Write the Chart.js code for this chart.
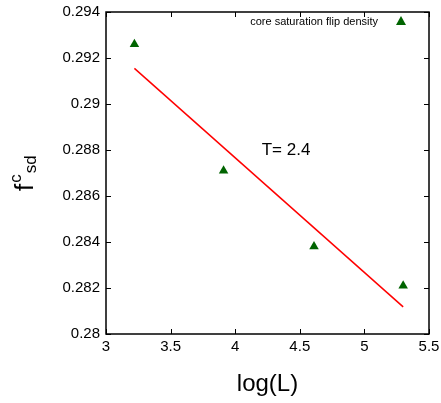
<!DOCTYPE html>
<html>
<head>
<meta charset="utf-8">
<script src="https://cdn.jsdelivr.net/npm/chart.js@4"></script>
<style>
  html, body { margin: 0; padding: 0; background: #ffffff; }
  #box { width: 441px; height: 403px; }
</style>
</head>
<body>
<div id="box"><canvas id="fsdChart"></canvas></div>
<script>
// Dados
const logL = [3.22, 3.91, 4.61, 5.30];
const fsd = [0.2926, 0.2871, 0.2838, 0.2821];
// Reta ajustada (extremos)
const fitX = [3.22, 5.30];
const fitY = [0.29155, 0.28118];
// Ticks
const xTicks = [3, 3.5, 4, 4.5, 5, 5.5];
const yTicks = [0.28, 0.282, 0.284, 0.286, 0.288, 0.29, 0.292, 0.294];

const legendText = 'core saturation flip density';
const tempText = 'T= 2.4';
const fontName = '"Liberation Sans", Arial, sans-serif';

// Moldura, ticks para dentro, legenda e rótulos
const framePlugin = {
  id: 'frame',
  afterDraw(chart) {
    const ctx = chart.ctx;
    const a = chart.chartArea;
    const xs = chart.scales.x;
    const ys = chart.scales.y;
    ctx.save();
    ctx.strokeStyle = '#000000';
    ctx.lineWidth = 1.5;
    ctx.strokeRect(a.left, a.top, a.right - a.left, a.bottom - a.top);

    // ticks em todos os lados
    ctx.lineWidth = 1;
    const len = 5;
    ctx.beginPath();
    xTicks.forEach(v => {
      const px = Math.round(xs.getPixelForValue(v)) + 0.5;
      ctx.moveTo(px, a.bottom); ctx.lineTo(px, a.bottom - len);
      ctx.moveTo(px, a.top); ctx.lineTo(px, a.top + len);
    });
    yTicks.forEach(v => {
      const py = Math.round(ys.getPixelForValue(v)) + 0.5;
      ctx.moveTo(a.left, py); ctx.lineTo(a.left + len, py);
      ctx.moveTo(a.right, py); ctx.lineTo(a.right - len, py);
    });
    ctx.stroke();

    // legenda
    ctx.fillStyle = '#000000';
    ctx.font = '11px ' + fontName;
    ctx.textAlign = 'right';
    ctx.textBaseline = 'middle';
    ctx.fillText(legendText, a.right - 51, a.top + 10);
    ctx.fillStyle = '#006400';
    const tx = a.right - 28, ty = a.top + 9;
    ctx.beginPath();
    ctx.moveTo(tx, ty - 5);
    ctx.lineTo(tx + 5, ty + 4);
    ctx.lineTo(tx - 5, ty + 4);
    ctx.closePath();
    ctx.fill();

    // anotação da temperatura
    ctx.fillStyle = '#000000';
    ctx.font = '17px ' + fontName;
    ctx.textAlign = 'left';
    ctx.fillText(tempText, xs.getPixelForValue(4.205), ys.getPixelForValue(0.288));

    // rótulo do eixo y: f^c_sd
    ctx.translate(33, 191);
    ctx.rotate(-Math.PI / 2);
    ctx.textBaseline = 'alphabetic';
    ctx.font = '26px ' + fontName;
    ctx.fillText('f', 0, 0);
    let u = ctx.measureText('f').width + 1;
    ctx.font = '17px ' + fontName;
    ctx.fillText('c', u, -12);
    u += ctx.measureText('c').width + 1;
    ctx.fillText('sd', u, 3);
    ctx.restore();
  }
};

const ctx = document.getElementById('fsdChart').getContext('2d');
new Chart(ctx, {
  type: 'scatter',
  data: {
    datasets: [
      {
        label: legendText,
        data: logL.map((x, i) => ({ x: x, y: fsd[i] })),
        pointStyle: 'triangle',
        pointRadius: 5.5,
        backgroundColor: '#006400',
        borderColor: '#006400',
        borderWidth: 0
      },
      {
        label: 'ajuste',
        data: fitX.map((x, i) => ({ x: x, y: fitY[i] })),
        showLine: true,
        pointRadius: 0,
        borderColor: '#ff0000',
        borderWidth: 1.5
      }
    ]
  },
  options: {
    responsive: true,
    maintainAspectRatio: false,
    animation: false,
    layout: { padding: { top: 12, right: 12, left: 0, bottom: 0 } },
    plugins: {
      legend: { display: false },
      tooltip: { enabled: false }
    },
    scales: {
      x: {
        type: 'linear',
        min: 3,
        max: 5.5,
        grid: { display: false, drawTicks: false },
        border: { display: false },
        afterBuildTicks: s => { s.ticks = xTicks.map(v => ({ value: v })); },
        afterFit: s => { s.height = 69; s.paddingLeft = 0; s.paddingRight = 0; },
        ticks: {
          padding: 4,
          color: '#000000',
          font: { family: fontName, size: 15 },
          callback: v => String(v)
        },
        title: {
          display: true,
          text: 'log(L)',
          color: '#000000',
          font: { family: fontName, size: 24 },
          padding: { top: 12 }
        }
      },
      y: {
        type: 'linear',
        min: 0.28,
        max: 0.294,
        grid: { display: false, drawTicks: false },
        border: { display: false },
        afterBuildTicks: s => { s.ticks = yTicks.map(v => ({ value: v })); },
        afterFit: s => { s.width = 106; s.paddingTop = 0; s.paddingBottom = 0; },
        ticks: {
          padding: 6,
          color: '#000000',
          font: { family: fontName, size: 15 },
          callback: v => String(parseFloat(v.toFixed(3)))
        }
      }
    }
  },
  plugins: [framePlugin]
});
</script>
</body>
</html>
